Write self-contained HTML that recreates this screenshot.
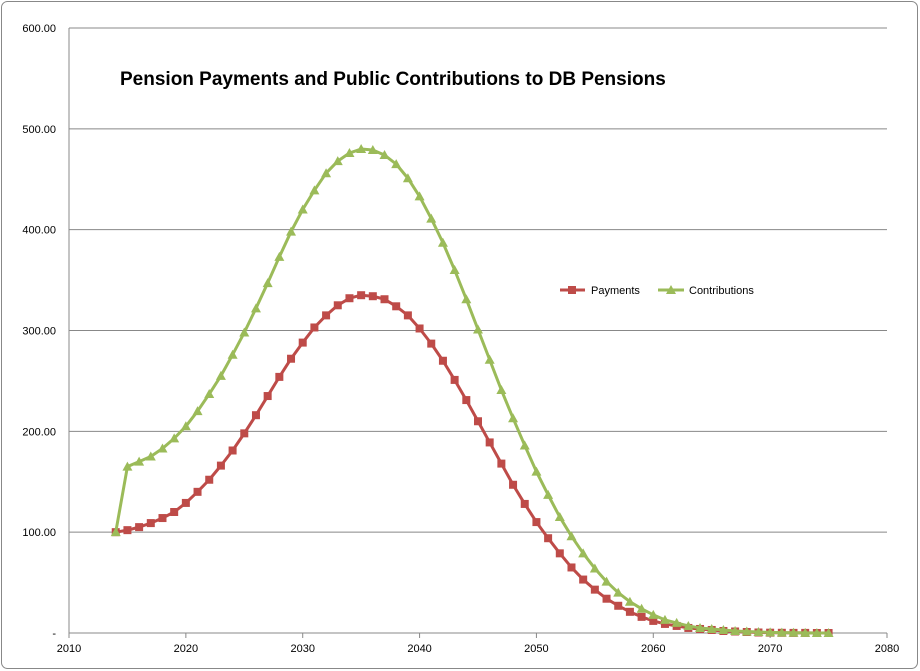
<!DOCTYPE html>
<html><head><meta charset="utf-8"><style>
body{margin:0;background:#fff;}
svg{display:block;font-family:"Liberation Sans",sans-serif;}
</style></head><body>
<svg id="chart" width="920" height="671" viewBox="0 0 920 671" xmlns="http://www.w3.org/2000/svg">
<rect x="1.5" y="1.5" width="916" height="667" rx="6" fill="#fff" stroke="#888" stroke-width="1"/>
<text x="120" y="85" font-size="19" font-weight="bold" fill="#000">Pension Payments and  Public  Contributions to DB Pensions</text>
<g id="grid"></g><g id="axes"></g><g id="series"></g>
<g>
<g>
<line x1="560" y1="290" x2="585" y2="290" stroke="#be4b48" stroke-width="3"/>
<rect x="568" y="286" width="8" height="8" fill="#be4b48"/>
<text x="591" y="294" font-size="11">Payments</text></g>
<g>
<line x1="658" y1="290" x2="684" y2="290" stroke="#9bbb59" stroke-width="3"/>
<polygon points="671,285 676,294 666,294" fill="#9bbb59"/>
<text x="689" y="294" font-size="11">Contributions</text></g>
</g>
</svg>
<script>
const years=[];for(let y=2014;y<=2075;y++)years.push(y);
const payments=[100,102,105,109,114,120,129,140,152,166,181,198,216,235,254,272,288,303,315,325,332,335,334,331,324,315,302,287,270,251,231,210,189,168,147,128,110,94,79,65,53,43,34,27,21,16,12,9,7,5,4,3,2,1.5,1,0.5,0.3,0.2,0.1,0.1,0,0];
const contributions=[100,165,170,175,183,193,205,220,237,255,276,298,322,347,373,398,420,439,456,468,476,480,479,474,465,451,433,411,387,360,331,301,271,241,213,186,160,137,115,96,79,64,51,40,31,24,18,13,10,7,5,4,3,2,1.5,1,0.6,0.4,0.2,0.1,0,0];
const yTicks=[0,100,200,300,400,500,600];
const yTickLabels=["-","100.00","200.00","300.00","400.00","500.00","600.00"];
const xTicks=[2010,2020,2030,2040,2050,2060,2070,2080];
const NS="http://www.w3.org/2000/svg";
const X=v=>69+(v-2010)*(887-69)/70;
const Y=v=>633-v*(633-28)/600;
function mk(t,a,p){const e=document.createElementNS(NS,t);for(const k in a)e.setAttribute(k,a[k]);p.appendChild(e);return e;}
const grid=document.getElementById('grid'),axes=document.getElementById('axes'),ser=document.getElementById('series');
yTicks.forEach((v,i)=>{
 if(v>0){const l=mk('line',{x1:69,x2:887,y1:Y(v),y2:Y(v),stroke:'#888','stroke-width':1},grid);
 
 }
 const t=mk('text',{x:56,y:Y(v)+4,'font-size':11,'text-anchor':'end'},axes);t.textContent=yTickLabels[i];
 
 
});
xTicks.forEach(v=>{
 const t=mk('text',{x:X(v),y:652,'font-size':11,'text-anchor':'middle'},axes);t.textContent=v;
 
 
 mk('line',{x1:X(v),x2:X(v),y1:633,y2:638,stroke:'#888'},axes);
});
const ya=mk('line',{x1:69,x2:69,y1:28,y2:633,stroke:'#888'},axes);


const xa=mk('line',{x1:69,x2:887,y1:633,y2:633,stroke:'#888'},axes);


function draw(vals,color,shape,name){
 const g=mk('g',{},ser);
 
 
 const pl=mk('polyline',{points:vals.map((v,i)=>X(years[i])+','+Y(v)).join(' '),fill:'none',stroke:color,'stroke-width':3,'stroke-linejoin':'round'},g);
 
 
 vals.forEach((v,i)=>{const x=X(years[i]),y=Y(v);let m;
  if(shape==='sq')m=mk('rect',{x:x-4,y:y-4,width:8,height:8,fill:color},g);
  else m=mk('polygon',{points:`${x},${y-5} ${x+5},${y+4} ${x-5},${y+4}`,fill:color},g);
  
  
 });
}
draw(payments,'#be4b48','sq','payments');
draw(contributions,'#9bbb59','tri','contributions');
</script>
</body></html>
